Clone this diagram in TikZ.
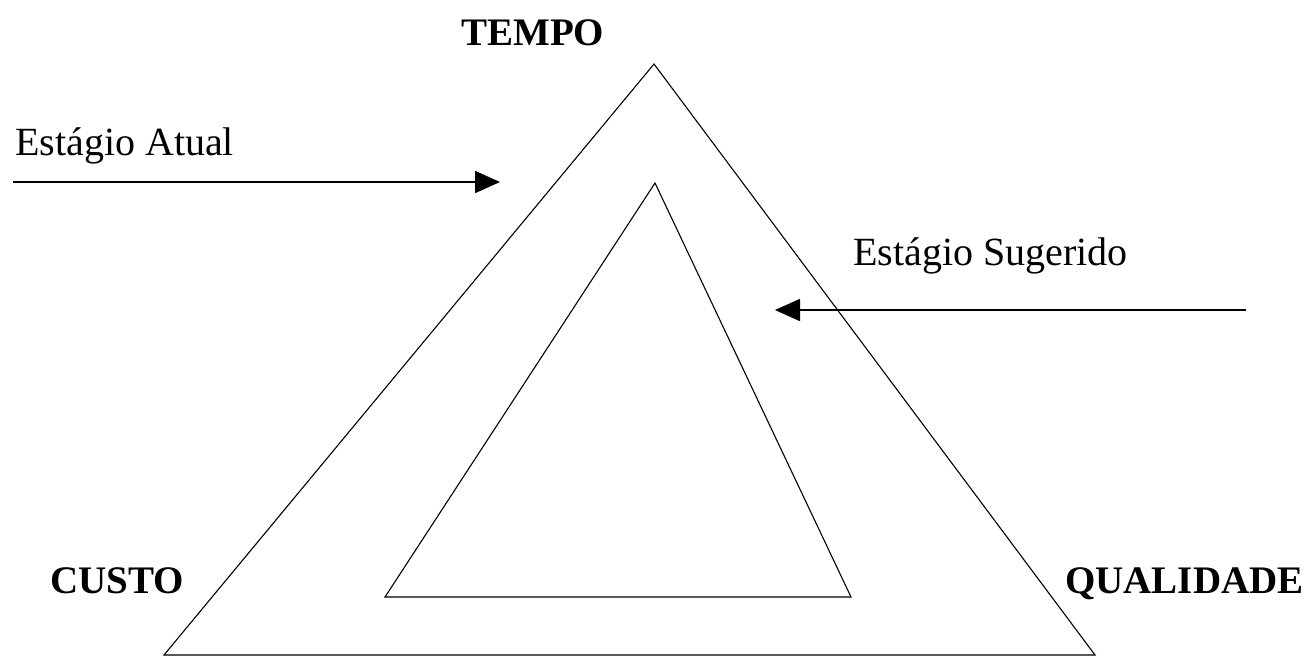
\documentclass[tikz,border=0pt]{standalone}
\usepackage{fontspec}
\setmainfont{Liberation Serif}
\usetikzlibrary{arrows.meta}
\begin{document}
\begin{tikzpicture}[x=1pt,y=-1pt,
  tri/.style={draw=black, line width=1.1pt, line join=miter},
  arr/.style={draw=black, line width=1.8pt, -{Triangle[length=25pt,width=22pt]}},
  lab/.style={inner sep=0pt, anchor=base west, font=\fontsize{40}{40}\selectfont},
  blab/.style={inner sep=0pt, anchor=base west, font=\fontsize{39}{39}\selectfont\bfseries}]
\useasboundingbox (0,0) rectangle (1312,657);
% outer triangle
\coordinate (oA) at (654,64);
\coordinate (oL) at (164,655);
\coordinate (oR) at (1095,655);
\draw[tri] (oA) -- (oL) -- (oR) -- cycle;
% inner triangle
\coordinate (iA) at (655,183);
\coordinate (iL) at (385,597);
\coordinate (iR) at (851,597);
\draw[tri] (iA) -- (iL) -- (iR) -- cycle;
% arrows
\coordinate (a1s) at (13,182);
\coordinate (a1e) at (500,182);
\draw[arr] (a1s) -- (a1e);
\coordinate (a2s) at (1246,310);
\coordinate (a2e) at (775,310);
\draw[arr] (a2s) -- (a2e);
% labels
\node[blab] (tempo) at (461,45) {TEMPO};
\node[lab] (atual) at (15,155) {Estágio Atual};
\node[lab] (sug) at (853,265) {Estágio Sugerido};
\node[blab] (custo) at (50,593) {CUSTO};
\node[blab] (qual) at (1065,593) {QUALIDADE};
\end{tikzpicture}
\end{document}
